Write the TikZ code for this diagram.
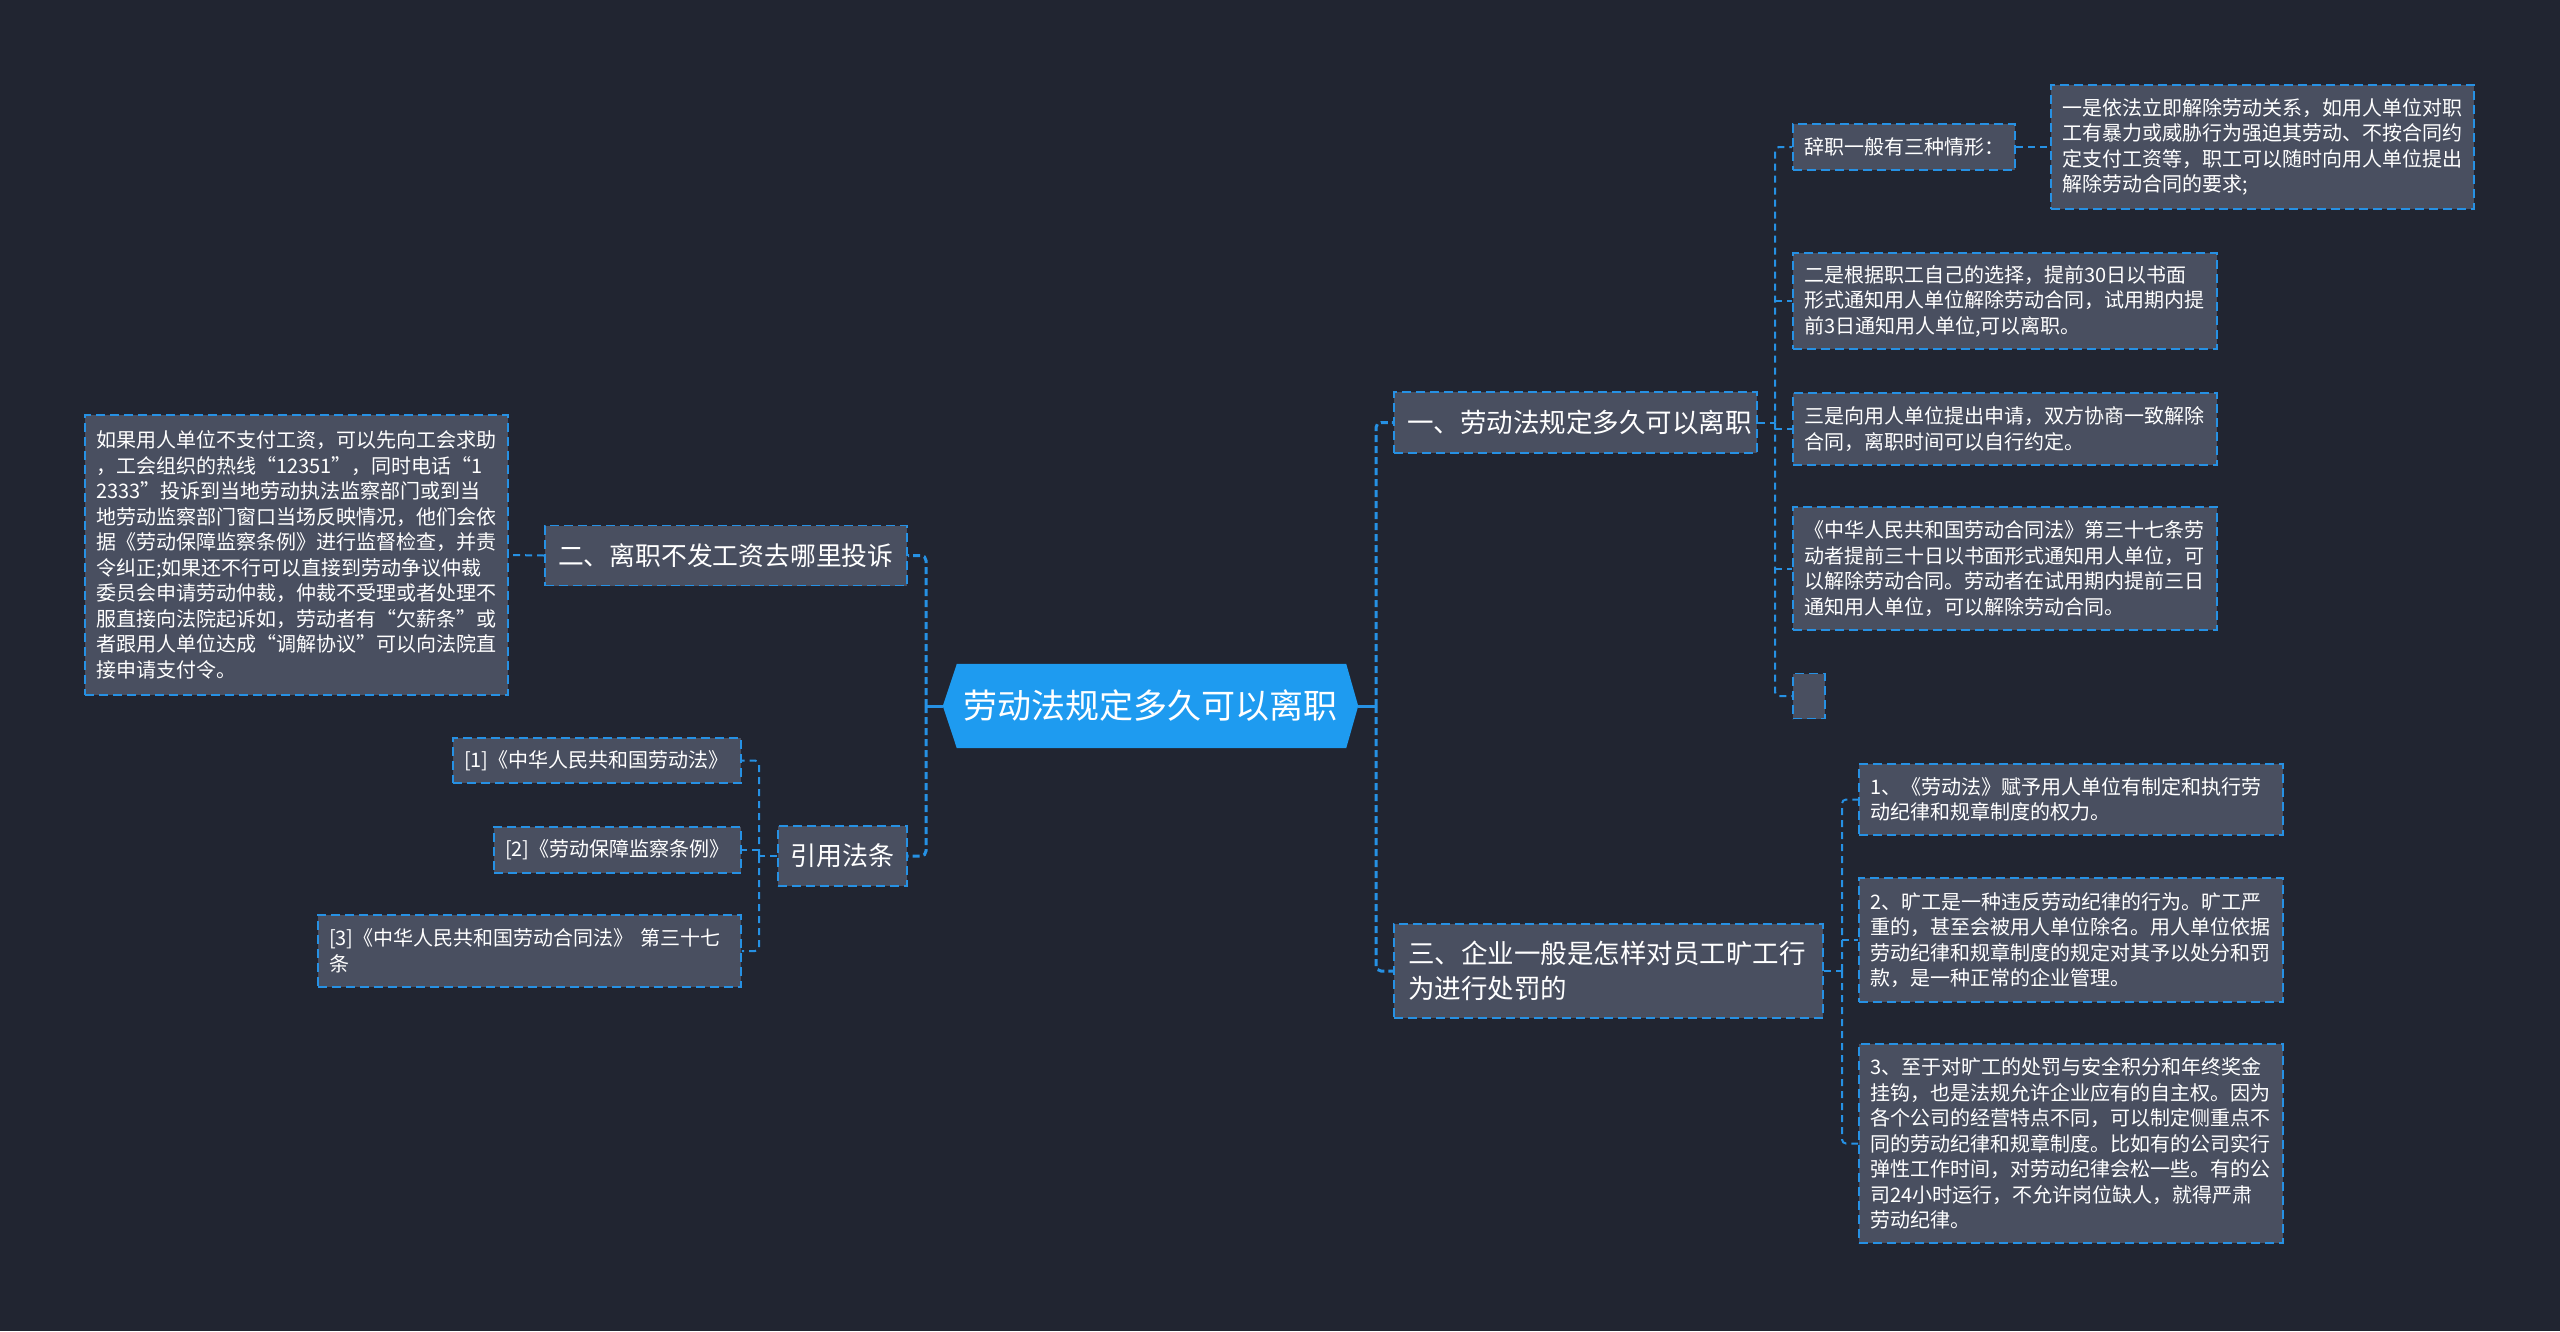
\documentclass[tikz,border=0pt]{standalone}
\usepackage{fontspec}
\setmainfont{Noto Sans CJK SC}
\usetikzlibrary{backgrounds,calc}
\definecolor{bgc}{RGB}{33,37,49}
\definecolor{nodefill}{RGB}{73,79,96}
\definecolor{lineblue}{RGB}{38,145,228}
\definecolor{rootblue}{RGB}{30,155,240}
\tikzset{
  box/.style={draw=lineblue, fill=nodefill, line width=1.8pt, dash pattern=on 9pt off 5pt,
    text=white, inner ysep=0pt, inner xsep=11pt, align=left, anchor=center},
  small/.style={font=\fontsize{20}{25.5}\selectfont},
  conn/.style={draw=lineblue, line width=2pt, dash pattern=on 7pt off 5pt, rounded corners=4pt},
  bus/.style={draw=lineblue, line width=3pt, dash pattern=on 7pt off 4pt, rounded corners=5pt},
  rootline/.style={draw=lineblue, line width=3pt},
}
\begin{document}
\begin{tikzpicture}[x=1pt,y=-1pt]
\begin{scope}[on background layer]
\fill[bgc] (0,0) rectangle (2560,1331);
\end{scope}
\useasboundingbox (0,0) rectangle (2560,1331);

% root
\node[text=white, font=\fontsize{34}{40}\selectfont, minimum width=415pt, minimum height=84pt, inner sep=0pt] (root) at (1150.5,706) {劳动法规定多久可以离职};
\begin{scope}[on background layer]
\fill[rootblue] (root.west) -- ([xshift=14pt]root.north west) -- ([xshift=-12pt]root.north east) -- (root.east) -- ([xshift=-12pt]root.south east) -- ([xshift=14pt]root.south west) -- cycle;
\end{scope}

% level 1
\node[box, inner xsep=13pt, text width=337pt, minimum height=61pt, font=\fontsize{26.5}{34}\selectfont] (n1) at (1575.5,422.5) {一、劳动法规定多久可以离职};
\node[box, inner xsep=13pt, text width=336pt, minimum height=60pt, font=\fontsize{25.8}{32}\selectfont] (n2) at (726,555.5) {二、离职不发工资去哪里投诉};
\node[box, inner xsep=14pt, text width=401pt, minimum height=94pt, font=\fontsize{26.5}{35}\selectfont] (n3) at (1608.5,971) {三、企业一般是怎样对员工旷工行\\为进行处罚的};
\node[box, inner xsep=12pt, text width=105pt, minimum height=60pt, font=\fontsize{26}{32}\selectfont] (n4) at (842.5,856) {引用法条};

% children of n1
\node[box, small, text width=200pt, minimum height=46pt] (n1a) at (1904,147) {辞职一般有三种情形：};
\node[box, small, text width=401pt, minimum height=124pt] (n1a1) at (2262.5,147) {一是依法立即解除劳动关系，如用人单位对职\\工有暴力或威胁行为强迫其劳动、不按合同约\\定支付工资等，职工可以随时向用人单位提出\\解除劳动合同的要求;};
\node[box, small, text width=402pt, minimum height=96pt] (n1b) at (2005,301) {二是根据职工自己的选择，提前30日以书面\\形式通知用人单位解除劳动合同，试用期内提\\前3日通知用人单位,可以离职。};
\node[box, small, text width=402pt, minimum height=72pt] (n1c) at (2005,429) {三是向用人单位提出申请，双方协商一致解除\\合同，离职时间可以自行约定。};
\node[box, small, text width=402pt, minimum height=123pt] (n1d) at (2005,568.5) {《中华人民共和国劳动合同法》第三十七条劳\\动者提前三十日以书面形式通知用人单位，可\\以解除劳动合同。劳动者在试用期内提前三日\\通知用人单位，可以解除劳动合同。};
\node[box, small, text width=10pt, minimum height=45pt] (n1e) at (1809,696) {};

% children of n3
\node[box, small, text width=402pt, minimum height=71pt] (n3a) at (2071,799.5) {1、《劳动法》赋予用人单位有制定和执行劳\\动纪律和规章制度的权力。};
\node[box, small, text width=402pt, minimum height=124pt] (n3b) at (2071,940) {2、旷工是一种违反劳动纪律的行为。旷工严\\重的，甚至会被用人单位除名。用人单位依据\\劳动纪律和规章制度的规定对其予以处分和罚\\款，是一种正常的企业管理。};
\node[box, small, text width=402pt, minimum height=199pt] (n3c) at (2071,1143.5) {3、至于对旷工的处罚与安全积分和年终奖金\\挂钩，也是法规允许企业应有的自主权。因为\\各个公司的经营特点不同，可以制定侧重点不\\同的劳动纪律和规章制度。比如有的公司实行\\弹性工作时间，对劳动纪律会松一些。有的公\\司24小时运行，不允许岗位缺人，就得严肃\\劳动纪律。};

% child of n2
\node[box, small, text width=401pt, minimum height=280pt] (n2a) at (296.5,555) {如果用人单位不支付工资，可以先向工会求助\\，工会组织的热线“12351”，同时电话“1\\2333”投诉到当地劳动执法监察部门或到当\\地劳动监察部门窗口当场反映情况，他们会依\\据《劳动保障监察条例》进行监督检查，并责\\令纠正;如果还不行可以直接到劳动争议仲裁\\委员会申请劳动仲裁，仲裁不受理或者处理不\\服直接向法院起诉如，劳动者有“欠薪条”或\\者跟用人单位达成“调解协议”可以向法院直\\接申请支付令。};

% children of n4
\node[box, small, text width=266pt, minimum height=45pt] (r1) at (597,760.5) {[1]《中华人民共和国劳动法》};
\node[box, small, text width=225pt, minimum height=46pt] (r2) at (617.5,850) {[2]《劳动保障监察条例》};
\node[box, small, text width=401pt, minimum height=72pt] (r3) at (529.5,951) {[3]《中华人民共和国劳动合同法》 第三十七\\条};

% bus coordinates
\coordinate (rr) at (1376,706);
\coordinate (rl) at (926,706);
\coordinate (b1) at (1775,422.5);
\coordinate (b3) at (1842,971);
\coordinate (b4) at (759,856);

% root connectors
\draw[rootline] (root.east) -- (rr);
\draw[bus] (rr) |- (n1.west);
\draw[bus] (rr) |- (n3.west);
\draw[rootline] (root.west) -- (rl);
\draw[bus] (rl) |- (n2.east);
\draw[bus] (rl) |- (n4.east);

% n1 connectors
\draw[conn] (n1.east) -- (b1);
\draw[conn] (b1) |- (n1a.west);
\draw[conn] (b1) |- (n1e.west);
\draw[conn] (b1 |- n1b.west) -- (n1b.west);
\draw[conn] (b1 |- n1c.west) -- (n1c.west);
\draw[conn] (b1 |- n1d.west) -- (n1d.west);
\draw[conn] (n1a.east) -- (n1a1.west);

% n3 connectors
\draw[conn] (n3.east) -- (b3);
\draw[conn] (b3) |- (n3a.west);
\draw[conn] (b3) |- (n3c.west);
\draw[conn] (b3 |- n3b.west) -- (n3b.west);

% n2 connector
\draw[conn] (n2.west) -- (n2a.east);

% n4 connectors
\draw[conn] (n4.west) -- (b4);
\draw[conn] (b4) |- (r1.east);
\draw[conn] (b4) |- (r3.east);
\draw[conn] (b4 |- r2.east) -- (r2.east);
\end{tikzpicture}
\end{document}
